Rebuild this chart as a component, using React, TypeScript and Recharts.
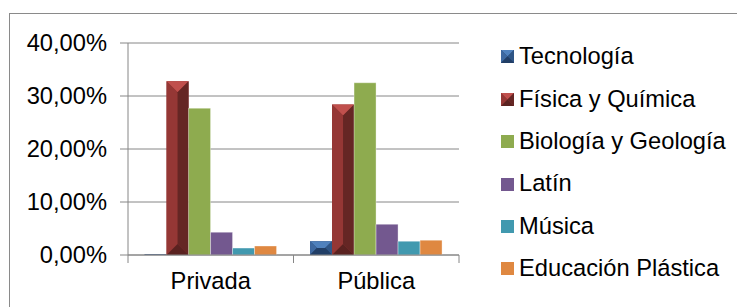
import React from 'react';
import { BarChart, Bar, XAxis, YAxis, CartesianGrid, Legend } from 'recharts';

const categories = ['Privada', 'Pública'];
const tecnologia = [0.1, 2.6];
const fisicaQuimica = [32.8, 28.4];
const biologiaGeologia = [27.7, 32.5];
const latin = [4.3, 5.8];
const musica = [1.3, 2.6];
const educacionPlastica = [1.7, 2.8];
const yTicks = [0, 10, 20, 30, 40];

type Bevel = { top: string; left: string; right: string; bottom: string; center: string };

const seriesList: { key: string; name: string; values: number[]; color: string; bevel?: Bevel }[] = [
  {
    key: 'tec', name: 'Tecnología', values: tecnologia, color: '#4F81BD',
    bevel: { top: '#4F81BD', left: '#3D68A0', right: '#2E5586', bottom: '#213E66', center: '#263F66' },
  },
  {
    key: 'fis', name: 'Física y Química', values: fisicaQuimica, color: '#953735',
    bevel: { top: '#C0504D', left: '#953735', right: '#652624', bottom: '#5A2220', center: '#953735' },
  },
  { key: 'bio', name: 'Biología y Geología', values: biologiaGeologia, color: '#8EAB4F' },
  { key: 'lat', name: 'Latín', values: latin, color: '#73588F' },
  { key: 'mus', name: 'Música', values: musica, color: '#4199AF' },
  { key: 'pla', name: 'Educación Plástica', values: educacionPlastica, color: '#DF8841' },
];

const data = categories.map((c, i) => {
  const row: Record<string, string | number> = { category: c };
  seriesList.forEach((s) => {
    row[s.key] = s.values[i];
  });
  return row;
});

const FONT = '"Liberation Sans", Arial, sans-serif';
const FONT_SIZE = 23.7;
const GRAY = '#868686';
const PLOT_LEFT = 120;
const PLOT_RIGHT_MARGIN = 286;
const CHART_W = 737;
const CHART_H = 299;
const BAND = (CHART_W - PLOT_LEFT - PLOT_RIGHT_MARGIN) / categories.length;
const X_TICK_MARGIN = 17;

const pts = (arr: number[][]) => arr.map((p) => p.join(',')).join(' ');

function BevelShape({ x, y, width, height, colors }: any) {
  const w = Number(width);
  const h = Number(height);
  if (!(w > 0) || !(h > 0)) return null;
  const d = Math.min(w, h) / 2;
  return (
    <g>
      <rect x={x} y={y} width={w} height={h} fill={colors.center} />
      <polygon points={pts([[x, y], [x + w, y], [x + w - d, y + d], [x + d, y + d]])} fill={colors.top} />
      <polygon points={pts([[x, y], [x + d, y + d], [x + d, y + h - d], [x, y + h]])} fill={colors.left} />
      <polygon points={pts([[x + w, y], [x + w, y + h], [x + w - d, y + h - d], [x + w - d, y + d]])} fill={colors.right} />
      <polygon points={pts([[x, y + h], [x + w, y + h], [x + w - d, y + h - d], [x + d, y + h - d]])} fill={colors.bottom} />
    </g>
  );
}

function XTick({ x, y, payload }: any) {
  const axisY = y - X_TICK_MARGIN;
  const half = BAND / 2;
  return (
    <g>
      <line x1={x - half} x2={x - half} y1={axisY} y2={axisY + 8} stroke={GRAY} strokeWidth={1} />
      <line x1={x + half} x2={x + half} y1={axisY} y2={axisY + 8} stroke={GRAY} strokeWidth={1} />
      <text x={x} y={y} dy="0.71em" textAnchor="middle" fill="#000" fontSize={FONT_SIZE} fontFamily={FONT}>
        {payload.value}
      </text>
    </g>
  );
}

function LegendContent({ payload }: any) {
  const items = ((payload || []) as any[]).slice().sort((a: any, b: any) => {
    const ia = seriesList.findIndex((q) => q.key === a.dataKey);
    const ib = seriesList.findIndex((q) => q.key === b.dataKey);
    return ia - ib;
  });
  return (
    <div style={{ fontFamily: FONT, fontSize: FONT_SIZE, color: '#000' }}>
      {items.map((p: any) => {
        const s = seriesList.find((q) => q.key === p.dataKey) || seriesList.find((q) => q.name === p.value);
        return (
          <div key={String(p.value)} style={{ height: 42.4, display: 'flex', alignItems: 'center', whiteSpace: 'nowrap' }}>
            <svg width={13} height={13} style={{ display: 'block', flex: 'none' }}>
              {s && s.bevel ? (
                <BevelShape x={0} y={0} width={13} height={13} colors={s.bevel} />
              ) : (
                <rect x={0} y={0} width={13} height={13} fill={s ? s.color : p.color} />
              )}
            </svg>
            <span style={{ marginLeft: 5, lineHeight: 1 }}>{p.value}</span>
          </div>
        );
      })}
    </div>
  );
}

export default function App() {
  return (
    <div style={{ position: 'relative', width: CHART_W, height: CHART_H, overflow: 'hidden', background: '#fff' }}>
      <div
        style={{
          position: 'absolute',
          left: 1,
          top: 5,
          width: 800,
          height: 400,
          border: '1px solid #8a8a8a',
          boxSizing: 'border-box',
        }}
      />
      <div style={{ position: 'absolute', left: 0, top: 0 }}>
        <BarChart
          width={CHART_W}
          height={CHART_H}
          data={data}
          margin={{ top: 35, right: PLOT_RIGHT_MARGIN, bottom: 0, left: 0 }}
          barCategoryGap="10%"
          barGap={0}
          style={{ fontFamily: FONT }}
        >
          <CartesianGrid vertical={false} stroke={GRAY} strokeWidth={1} />
          <XAxis
            dataKey="category"
            interval={0}
            axisLine={{ stroke: GRAY, strokeWidth: 1 }}
            tickLine={false}
            tickSize={0}
            tickMargin={X_TICK_MARGIN}
            tick={<XTick />}
            height={52}
          />
          <YAxis
            domain={[0, 40]}
            ticks={yTicks}
            width={PLOT_LEFT}
            tickSize={8}
            tickMargin={13}
            axisLine={{ stroke: GRAY, strokeWidth: 1 }}
            tickLine={{ stroke: GRAY, strokeWidth: 1 }}
            tick={{ fill: '#000', fontSize: FONT_SIZE, fontFamily: FONT }}
            tickFormatter={(v: number) => v.toFixed(2).replace('.', ',') + '%'}
            allowDataOverflow
          />
          <Legend
            layout="vertical"
            align="center"
            verticalAlign="middle"
            content={<LegendContent />}
            wrapperStyle={{ left: 493, top: 27.8, width: 240, height: 260 }}
          />
          {seriesList.map((s) =>
            s.bevel ? (
              <Bar
                key={s.key}
                dataKey={s.key}
                name={s.name}
                fill={s.color}
                isAnimationActive={false}
                shape={(props: any) => <BevelShape {...props} colors={s.bevel} />}
              />
            ) : (
              <Bar
                key={s.key}
                dataKey={s.key}
                name={s.name}
                fill={s.color}
                stroke="rgba(255,255,255,0.35)"
                strokeWidth={1}
                isAnimationActive={false}
              />
            )
          )}
        </BarChart>
      </div>
    </div>
  );
}
